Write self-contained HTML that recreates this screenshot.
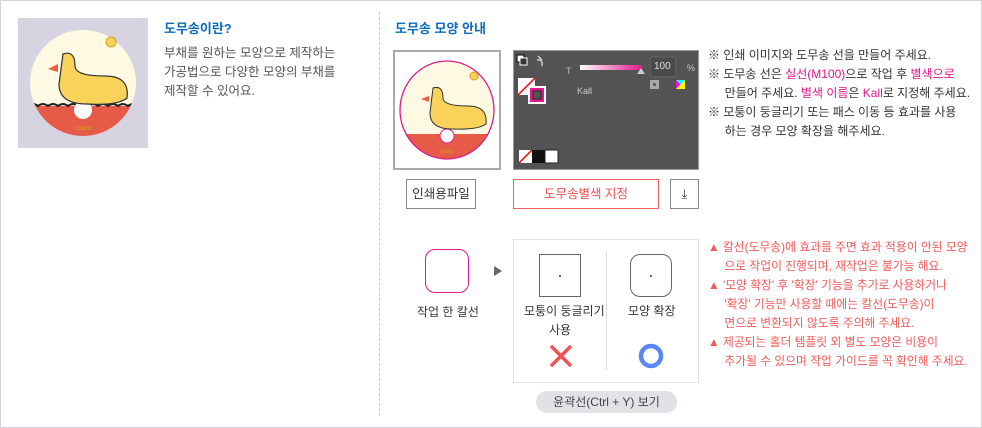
<!DOCTYPE html>
<html><head><meta charset="utf-8"><style>
*{margin:0;padding:0;box-sizing:border-box}
body{width:982px;height:428px;background:#fff;font-family:"Liberation Sans","Noto Sans CJK KR",sans-serif;position:relative;overflow:hidden}
.a{position:absolute}
.t{font-size:12px;color:#333;white-space:nowrap;line-height:19px}
.r{color:#f05a5a}
.m{color:#e0198c}
.btn{position:absolute;border:1px solid #888;font-size:12.5px;text-align:center;line-height:28px;color:#333;background:#fff}
</style></head><body>
<div class="a" style="left:0;top:0;width:982px;height:428px;border:1px solid #d0d3da"></div>
<div class="a" style="left:379px;top:12px;height:404px;border-left:1px dashed #c8c8c8"></div>

<!-- left image -->
<div class="a" style="left:18px;top:18px;width:130px;height:130px;background:#d5d4e0"></div>
<svg class="a" style="left:18px;top:18px" width="130" height="130">
<defs><clipPath id="c1"><circle cx="65" cy="65" r="53"/></clipPath></defs>
<g clip-path="url(#c1)">
<rect x="0" y="0" width="130" height="130" fill="#fdf9e3"/>
<rect x="0" y="88" width="130" height="50" fill="#e65b48"/>
<path d="M10 88 q5 -4 10 0 q5 -4 10 0 q5 -4 10 0 q5 -4 10 0 q5 -4 10 0 q5 -4 10 0 q5 -4 10 0 q5 -4 10 0 q5 -4 10 0 q5 -4 10 0 q5 -4 10 0 q5 -4 10 0" stroke="#222" stroke-width="2" fill="none"/>
</g>
<circle cx="65" cy="92" r="9" fill="#fff"/>
<path d="M45 36 q12 -4 12 12 q0 10 30 10 q25 0 22 22 q-10 8 -40 6 q-28 0 -28 -20 z" fill="#f9d25a" stroke="#333" stroke-width="1.2"/>
<path d="M40 46 l-10 5 l10 3 z" fill="#e8603c"/>
<circle cx="93" cy="24" r="5" fill="#f9d25a" stroke="#d9a020"/>
<text x="65" y="112" font-size="6" fill="#c9b400" text-anchor="middle" font-family="Liberation Sans">I coco</text>
</svg>
<div class="a" style="left:164px;top:18px;font-size:13px;color:#0b6cbf;font-weight:bold">도무송이란?</div>
<div class="a t" style="left:164px;top:44px;font-size:12.5px;color:#555;line-height:19px">부채를 원하는 모양으로 제작하는<br>가공법으로 다양한 모양의 부채를<br>제작할 수 있어요.</div>

<!-- right top -->
<div class="a" style="left:395px;top:18px;font-size:13px;color:#0b6cbf;font-weight:bold">도무송 모양 안내</div>
<div class="a" style="left:393px;top:50px;width:108px;height:120px;border:2px solid #aaa"></div>
<svg class="a" style="left:393px;top:50px" width="108" height="120">
<defs><clipPath id="c2"><ellipse cx="54" cy="60" rx="47" ry="49"/></clipPath></defs>
<g clip-path="url(#c2)">
<rect width="108" height="120" fill="#fdf9e3"/>
<rect y="84" width="108" height="40" fill="#e65b48"/>
</g>
<ellipse cx="54" cy="60" rx="47" ry="49" fill="none" stroke="#e0198c" stroke-width="1.3"/>
<circle cx="54" cy="86" r="7" fill="#fff" stroke="#e0198c"/>
<path d="M40 38 q10 -3 10 10 q0 8 25 8 q20 0 18 18 q-8 6 -34 5 q-22 0 -22 -16 z" fill="#f9d25a" stroke="#333"/>
<path d="M36 46 l-8 3 l8 3z" fill="#e8603c"/>
<circle cx="81" cy="26" r="4" fill="#f9d25a" stroke="#d9a020"/>
<text x="54" y="103" font-size="5" fill="#c9b400" text-anchor="middle">I coco</text>
</svg>

<div class="a" style="left:513px;top:50px;width:186px;height:120px;background:#535353;border:1px solid #999"></div>
<svg class="a" style="left:513px;top:50px" width="186" height="120">
<rect x="4" y="5" width="7" height="7" fill="#fff" stroke="#000"/><rect x="7" y="8" width="7" height="7" fill="#333" stroke="#fff"/>
<path d="M25 6 l4 4 M24 10 q6 -1 5 6" stroke="#ccc" stroke-width="1.5" fill="none"/>
<rect x="5" y="28" width="17" height="17" fill="#fff"/><line x1="5" y1="45" x2="22" y2="28" stroke="#e00" stroke-width="1.5"/>
<rect x="15" y="36" width="18" height="18" fill="#fff"/><rect x="17" y="38" width="14" height="14" fill="#e0198c"/><rect x="20" y="41" width="8" height="8" fill="#555" stroke="#222"/>
<text x="53" y="24" font-size="9" fill="#bbb">T</text>
<defs><linearGradient id="g"><stop offset="0" stop-color="#fff"/><stop offset="1" stop-color="#e0198c"/></linearGradient></defs>
<rect x="67" y="15" width="62" height="5" fill="url(#g)"/>
<path d="M124 24 l4 -6 l4 6z" fill="#ccc"/>
<rect x="137" y="7" width="26" height="20" rx="3" fill="#4a4a4a" stroke="#666"/>
<text x="141" y="19" font-size="10" fill="#ddd">100</text>
<text x="174" y="21" font-size="9" fill="#ccc">%</text>
<text x="64" y="44" font-size="9" fill="#ccc">Kall</text>
<rect x="137" y="30" width="9" height="9" fill="#aaa"/><circle cx="141.5" cy="34.5" r="1.5" fill="#555"/>
<rect x="163" y="30" width="9" height="9" fill="#ff0"/><path d="M163 30 h9 l-4.5 4.5z" fill="#0ff"/><path d="M163 30 v9 l4.5 -4.5z" fill="#f0f"/>
<rect x="6" y="100" width="13" height="13" fill="#fff"/><line x1="6" y1="113" x2="19" y2="100" stroke="#e00" stroke-width="1.5"/>
<rect x="19" y="100" width="13" height="13" fill="#111"/><rect x="32" y="100" width="13" height="13" fill="#fff" stroke="#222"/>
</svg>

<div class="btn" style="left:406px;top:179px;width:70px;height:30px">인쇄용파일</div>
<div class="btn" style="left:513px;top:179px;width:146px;height:30px;border-color:#f06060;color:#f05050">도무송별색 지정</div>
<div class="btn" style="left:670px;top:179px;width:29px;height:30px;font-size:13px">⤓</div>

<div class="a t" style="left:708px;top:46px">※ 인쇄 이미지와 도무송 선을 만들어 주세요.<br>※ 도무송 선은 <span class="m">실선(M100)</span>으로 작업 후 <span class="m">별색으로</span><br>&nbsp;&nbsp;&nbsp;&nbsp;&nbsp;만들어 주세요. <span class="m">별색 이름</span>은 <span class="m">Kall</span>로 지정해 주세요.<br>※ 모퉁이 둥글리기 또는 패스 이동 등 효과를 사용<br>&nbsp;&nbsp;&nbsp;&nbsp;&nbsp;하는 경우 모양 확장을 해주세요.</div>

<!-- bottom -->
<div class="a" style="left:425px;top:249px;width:44px;height:44px;border:1.5px solid #e0198c;border-radius:10px"></div>
<div class="a t" style="left:417px;top:303px">작업 한 칼선</div>
<div class="a" style="left:494px;top:266px;width:0;height:0;border-left:8px solid #666;border-top:5px solid transparent;border-bottom:5px solid transparent"></div>
<div class="a" style="left:513px;top:239px;width:186px;height:144px;border:1px solid #e2e2e2"></div>
<div class="a" style="left:606px;top:252px;height:118px;border-left:1px solid #ddd"></div>
<div class="a" style="left:539px;top:254px;width:42px;height:43px;border:1px solid #666"></div>
<div class="a" style="left:630px;top:254px;width:42px;height:43px;border:1px solid #666;border-radius:10px"></div>
<div class="a" style="left:559px;top:275px;width:2px;height:2px;background:#666"></div>
<div class="a" style="left:650px;top:275px;width:2px;height:2px;background:#666"></div>
<div class="a t" style="left:524px;top:302px;text-align:center;width:72px">모퉁이 둥글리기<br>사용</div>
<div class="a t" style="left:628px;top:302px">모양 확장</div>
<svg class="a" style="left:549px;top:344px" width="24" height="24"><path d="M2 2 L22 22 M22 2 L2 22" stroke="#f05050" stroke-width="3.5"/></svg>
<svg class="a" style="left:638px;top:343px" width="26" height="26"><circle cx="13" cy="13" r="10" fill="none" stroke="#5b86f5" stroke-width="4.5"/></svg>
<div class="a" style="left:536px;top:391px;width:141px;height:22px;background:#e0e2e6;border-radius:11px;font-size:12px;color:#444;text-align:center;line-height:22px">윤곽선(Ctrl + Y) 보기</div>

<div class="a t r" style="left:708px;top:238px;font-size:11.8px">▲ 칼선(도무송)에 효과를 주면 효과 적용이 안된 모양<br>&nbsp;&nbsp;&nbsp;&nbsp;&nbsp;으로 작업이 진행되며, 재작업은 불가능 해요.<br>▲ '모양 확장' 후 '확장' 기능을 추가로 사용하거나<br>&nbsp;&nbsp;&nbsp;&nbsp;&nbsp;'확장' 기능만 사용할 때에는 칼선(도무송)이<br>&nbsp;&nbsp;&nbsp;&nbsp;&nbsp;면으로 변환되지 않도록 주의해 주세요.<br>▲ 제공되는 홀더 템플릿 외 별도 모양은 비용이<br>&nbsp;&nbsp;&nbsp;&nbsp;&nbsp;추가될 수 있으며 작업 가이드를 꼭 확인해 주세요.</div>
</body></html>
